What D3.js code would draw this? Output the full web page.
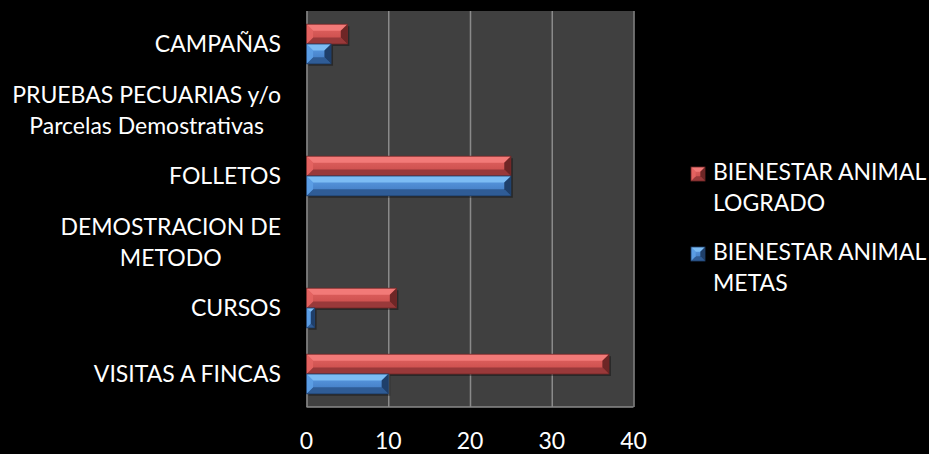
<!DOCTYPE html>
<html>
<head>
<meta charset="utf-8">
<style>
  body { margin: 0; background: #000; }
  text { font-family: Lato, "Open Sans", sans-serif; fill: #fff; }
</style>
</head>
<body>
<script src="https://cdn.jsdelivr.net/npm/d3@7"></script>
<script>

// categories, top to bottom (each label split in lines)
var categories = ["CAMPAÑAS", "PRUEBAS PECUARIAS y/o Parcelas Demostrativas", "FOLLETOS",
                  "DEMOSTRACION DE METODO", "CURSOS", "VISITAS A FINCAS"];
var labelLines = [["CAMPAÑAS"], ["PRUEBAS PECUARIAS y/o", "Parcelas Demostrativas"], ["FOLLETOS"],
                  ["DEMOSTRACION DE", "METODO"], ["CURSOS"], ["VISITAS A FINCAS"]];
var logrado = [5, 0, 25, 0, 11, 37];
var metas   = [3, 0, 25, 0, 1, 10];
var seriesNames = ["BIENESTAR ANIMAL LOGRADO", "BIENESTAR ANIMAL METAS"];
var legendLines = [["BIENESTAR ANIMAL", "LOGRADO"], ["BIENESTAR ANIMAL", "METAS"]];
var xTicks = [0, 10, 20, 30, 40];

// plot area
var W = 929, H = 454;
var plot = {left: 306.5, right: 633.5, top: 11, bottom: 407};

var svg = d3.select("body").append("svg")
    .attr("width", W)
    .attr("height", H);

var x = d3.scaleLinear().domain([0, 40]).range([plot.left, plot.right]);
var y = d3.scaleBand().domain(categories).range([plot.top, plot.bottom])
    .paddingInner(0.4).paddingOuter(0.2);
var ySeries = d3.scaleBand().domain([0, 1]).range([0, y.bandwidth()]);

// colour sets
var palette = [
  {light: "#f27a78", top: "#e46462", main: "#c44a48", bottom: "#99393a", dark: "#6e2626"},
  {light: "#7cbcf4", top: "#5c9ee6", main: "#3f76bd", bottom: "#2f5c96", dark: "#1f3f6a"}
];

// background of plot
svg.append("rect")
    .attr("x", plot.left).attr("y", plot.top)
    .attr("width", plot.right - plot.left).attr("height", plot.bottom - plot.top)
    .attr("fill", "#404040");

// gridlines
svg.append("g")
    .attr("transform", "translate(0," + plot.bottom + ")")
    .call(d3.axisBottom(x).tickValues(xTicks).tickSize(-(plot.bottom - plot.top)).tickFormat(""))
    .call(function(g) {
      g.select(".domain").remove();
      g.selectAll("line").attr("stroke", "#8a8a8a").attr("stroke-width", 1.5);
    });
svg.append("line")
    .attr("x1", plot.left).attr("x2", plot.right)
    .attr("y1", plot.bottom).attr("y2", plot.bottom)
    .attr("stroke", "#8a8a8a").attr("stroke-width", 1.5);

// gradients
var defs = svg.append("defs");
palette.forEach(function(p, i) {
  var gr = defs.append("linearGradient").attr("id", "grad" + i)
      .attr("x1", 0).attr("x2", 0).attr("y1", 0).attr("y2", 1);
  gr.append("stop").attr("offset", "0%").attr("stop-color", p.top);
  gr.append("stop").attr("offset", "100%").attr("stop-color", p.main);
});

// bevelled bar
function bevelBar(g, x0, x1, y0, y1, p, i) {
  var b = Math.min(7, (y1 - y0) / 3, (x1 - x0) / 2);
  g.append("rect").attr("x", x0 + 2).attr("y", y0 + 2)
      .attr("width", x1 - x0).attr("height", y1 - y0)
      .attr("fill", "#000").attr("opacity", 0.35);
  g.append("rect").attr("x", x0).attr("y", y0)
      .attr("width", x1 - x0).attr("height", y1 - y0)
      .attr("fill", "url(#grad" + i + ")");
  g.append("polygon")
      .attr("points", [[x0, y0], [x1, y0], [x1 - b, y0 + b], [x0 + b, y0 + b]].join(" "))
      .attr("fill", p.light);
  g.append("polygon")
      .attr("points", [[x0, y1], [x1, y1], [x1 - b, y1 - b], [x0 + b, y1 - b]].join(" "))
      .attr("fill", p.bottom);
  g.append("polygon")
      .attr("points", [[x1, y0], [x1, y1], [x1 - b, y1 - b], [x1 - b, y0 + b]].join(" "))
      .attr("fill", p.dark);
  g.append("polygon")
      .attr("points", [[x0, y0], [x0, y1], [x0 + b, y1 - b], [x0 + b, y0 + b]].join(" "))
      .attr("fill", p.top).attr("opacity", 0.9);
  g.append("rect").attr("x", x0).attr("y", y0)
      .attr("width", x1 - x0).attr("height", y1 - y0)
      .attr("fill", "none").attr("stroke", p.dark).attr("stroke-width", 0.8);
}

var bars = svg.append("g");
[logrado, metas].forEach(function(vals, s) {
  categories.forEach(function(c, k) {
    if (!vals[k]) return;
    var y0 = y(c) + ySeries(s);
    bevelBar(bars, x(0), x(vals[k]), y0, y0 + ySeries.bandwidth(), palette[s], s);
  });
});

// category labels: block right aligned, lines centred inside
var fs = 23, lh = 31;
var labels = svg.append("g");
categories.forEach(function(c, k) {
  var lines = labelLines[k];
  var cy = y(c) + y.bandwidth() / 2;
  var g = labels.append("g");
  var t = g.selectAll("text").data(lines).enter().append("text")
      .attr("y", function(d, j) { return cy + (j - (lines.length - 1) / 2) * lh; })
      .attr("dy", "0.36em")
      .attr("text-anchor", "middle")
      .style("font-size", fs + "px")
      .text(function(d) { return d; });
  var wmax = d3.max(t.nodes(), function(n) { return n.getComputedTextLength(); });
  t.attr("x", 281 - wmax / 2);
});

// x tick labels
svg.append("g").selectAll("text").data(xTicks).enter().append("text")
    .attr("x", function(d) { return x(d); })
    .attr("y", 449)
    .attr("text-anchor", "middle")
    .style("font-size", fs + "px")
    .text(function(d) { return d; });

// legend
var legend = svg.append("g");
var legendTop = [165, 245];
seriesNames.forEach(function(n, s) {
  var g = legend.append("g");
  bevelBar(g, 691, 705, legendTop[s] + 2, legendTop[s] + 16, palette[s], s);
  g.selectAll("text").data(legendLines[s]).enter().append("text")
      .attr("x", 713)
      .attr("y", function(d, j) { return legendTop[s] + 15 + j * 31; })
      .style("font-size", fs + "px")
      .text(function(d) { return d; });
});

</script>
</body>
</html>
